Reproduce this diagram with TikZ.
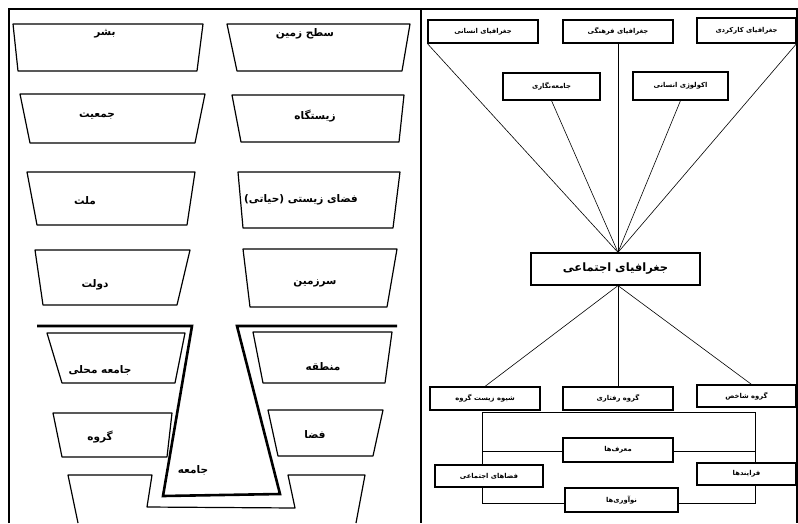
\documentclass[tikz,border=0pt]{standalone}
\usepackage{fontspec}
\newfontfamily\fa[Script=Arabic]{DejaVu Sans}
\TeXXeTstate=1
\newcommand{\rl}[1]{\beginR #1\endR}
\tikzset{
  frameline/.style={line width=1.6pt},
  trap/.style={line width=1.2pt, line join=round},
  funnel/.style={line width=2.6pt, line join=miter},
  ltext/.style={font=\fa\bfseries\fontsize{10.5}{12}\selectfont, inner sep=0pt},
  gbox/.style={draw, line width=1.2pt, fill=white, inner sep=0pt, font=\fa\bfseries\fontsize{6.8}{8}\selectfont},
  conn/.style={line width=0.6pt},
}
\begin{document}
\begin{tikzpicture}[x=1pt,y=-1pt]
\useasboundingbox (0,0) rectangle (798,523);
% frame
\draw[frameline] (9,523) -- (9,9) -- (797,9) -- (797,523);
\draw[frameline] (421,9) -- (421,523);
% left panel trapezoids
\draw[trap] (13,24) -- (203,24) -- (197,71) -- (18,71) -- cycle;
\draw[trap] (20,94) -- (205,94) -- (195,143) -- (30,143) -- cycle;
\draw[trap] (27,172) -- (195,172) -- (187,225) -- (37,225) -- cycle;
\draw[trap] (35,250) -- (190,250) -- (177,305) -- (43,305) -- cycle;
\draw[trap] (47,333) -- (185,333) -- (175,383) -- (62,383) -- cycle;
\draw[trap] (53,413) -- (172,413) -- (167,457) -- (62,457) -- cycle;
\draw[trap] (227,24) -- (410,24) -- (402,71) -- (237,71) -- cycle;
\draw[trap] (232,95) -- (404,95) -- (399,142) -- (241,142) -- cycle;
\draw[trap] (238,172) -- (400,172) -- (393,228) -- (243,228) -- cycle;
\draw[trap] (243,249) -- (397,249) -- (387,307) -- (250,307) -- cycle;
\draw[trap] (253,332) -- (392,332) -- (385,383) -- (263,383) -- cycle;
\draw[trap] (268,410) -- (383,410) -- (373,456) -- (278,456) -- cycle;
\draw[trap] (78,523) -- (68,475) -- (152,475) -- (147,507) -- (295,508) -- (288,475) -- (365,475) -- (356,523);
\draw[funnel] (37,326) -- (192,326) -- (163,496) -- (280,494) -- (237,326) -- (397,326);
% left panel texts
\node[ltext] (l1) at (105,34) {\rl{بشر}};
\node[ltext] (l2) at (97,116) {\rl{جمعیت}};
\node[ltext] (l3) at (85,201) {\rl{ملت}};
\node[ltext] (l4) at (95,285) {\rl{دولت}};
\node[ltext] (l5) at (100,370) {\rl{جامعه محلی}};
\node[ltext] (l6) at (100,437) {\rl{گروه}};
\node[ltext] (r1) at (305,34) {\rl{سطح زمین}};
\node[ltext] (r2) at (315,116) {\rl{زیستگاه}};
\node[ltext] (r3) at (301,200) {\rl{فضای زیستی (حیاتی)}};
\node[ltext] (r4) at (315,283) {\rl{سرزمین}};
\node[ltext] (r5) at (323,367) {\rl{منطقه}};
\node[ltext] (r6) at (315,435) {\rl{فضا}};
\node[ltext] (jm) at (193,470) {\rl{جامعه}};
% right panel
\coordinate (nw) at (482,412);
\coordinate (se) at (755,503);
\coordinate (mw) at (482,451);
\coordinate (me) at (755,451);
\draw[conn] (nw) rectangle (se);
\draw[conn] (mw) -- (me);
\node[gbox, minimum width=110pt, minimum height=23pt] (h) at (483,31.5) {\rl{جغرافیای انسانی}};
\node[gbox, minimum width=110pt, minimum height=23pt] (c) at (618,31.5) {\rl{جغرافیای فرهنگی}};
\node[gbox, minimum width=99pt, minimum height=25pt] (f) at (746.5,30.5) {\rl{جغرافیای کارکردی}};
\node[gbox, minimum width=97pt, minimum height=27pt] (jn) at (551.5,86.5) {\rl{جامعه‌نگاری}};
\node[gbox, minimum width=95pt, minimum height=28pt] (eco) at (680.5,86) {\rl{اکولوژی انسانی}};
\node[gbox, minimum width=169pt, minimum height=32pt, font=\fa\bfseries\fontsize{11.5}{13}\selectfont] (soc) at (615.5,269) {\rl{جغرافیای اجتماعی}};
\node[gbox, minimum width=110pt, minimum height=23pt] (sh) at (485,398.5) {\rl{شیوه زیست گروه}};
\node[gbox, minimum width=110pt, minimum height=23pt] (rf) at (618,398.5) {\rl{گروه رفتاری}};
\node[gbox, minimum width=99pt, minimum height=22pt] (shk) at (746.5,396) {\rl{گروه شاخص}};
\node[gbox, minimum width=110pt, minimum height=24pt] (m) at (618,450) {\rl{معرف‌ها}};
\node[gbox, minimum width=108pt, minimum height=22pt] (fz) at (489,476) {\rl{فضاهای اجتماعی}};
\node[gbox, minimum width=99pt, minimum height=22pt] (fr) at (746.5,474) {\rl{فرایندها}};
\node[gbox, minimum width=113pt, minimum height=24pt] (n) at (621.5,500) {\rl{نوآوری‌ها}};
\coordinate (top) at ([xshift=2.5pt]soc.north);
\coordinate (bot) at ([xshift=2.5pt]soc.south);
\draw[conn] (h.south west) -- (top);
\draw[conn] (c.south) -- (top);
\draw[conn] (f.south east) -- (top);
\draw[conn] (jn.south) -- (top);
\draw[conn] (eco.south) -- (top);
\draw[conn] (bot) -- (sh.north);
\draw[conn] (bot) -- (rf.north);
\draw[conn] (bot) -- ([xshift=5pt]shk.north);
\end{tikzpicture}
\end{document}
